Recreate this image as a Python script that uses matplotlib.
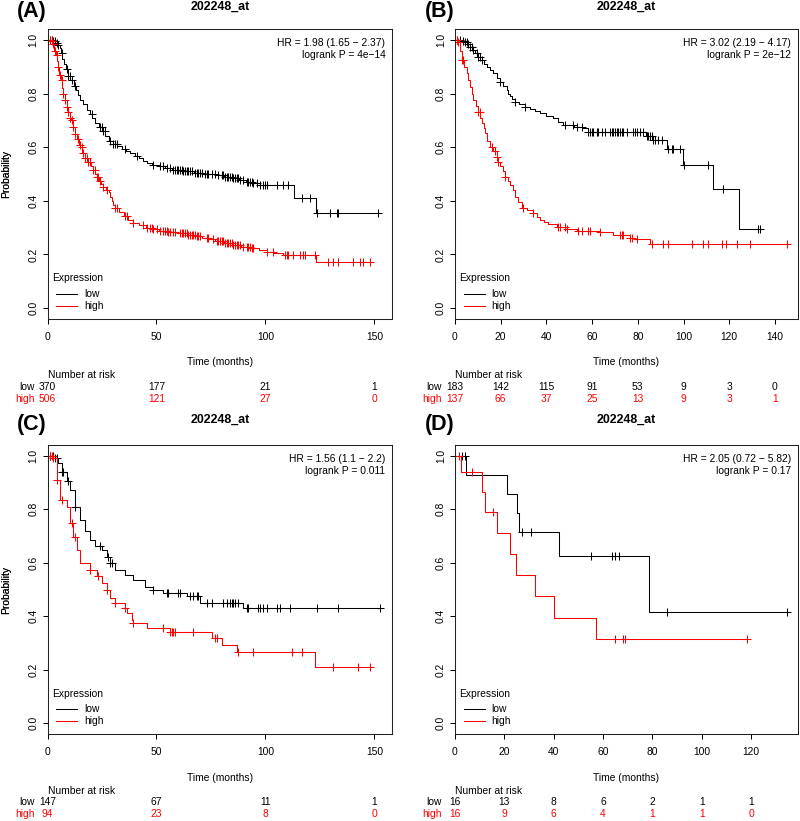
import numpy as np
import matplotlib
matplotlib.use('Agg')
import matplotlib.pyplot as plt
import matplotlib.transforms as mtransforms

plt.rcParams['font.family'] = ['Liberation Sans', 'DejaVu Sans']

W, H = 800, 821
FS = 7.4
RED = '#FF0000'

# ---------------- Panel A ----------------
a_low_t = [0, 2, 3.5, 5, 5.7, 6.2, 6.6, 7.5, 8.5, 9.5, 10.5, 12, 13, 14, 15, 16.5, 18, 19.5, 20.5, 22,
           23.5, 25, 26.5, 28, 30, 32, 34, 36, 38, 40, 42, 44, 45.5, 48, 51, 54, 57, 62, 67, 72, 77, 81,
           85, 88, 91, 94.5, 97.5, 113, 123, 152.6]
a_low_s = [1.0, 0.997, 0.99, 0.98, 0.97, 0.95, 0.93, 0.91, 0.89, 0.865, 0.85, 0.83, 0.813, 0.795, 0.776,
           0.76, 0.74, 0.725, 0.71, 0.69, 0.675, 0.66, 0.64, 0.625, 0.612, 0.605, 0.595, 0.585, 0.577,
           0.568, 0.56, 0.55, 0.54, 0.535, 0.528, 0.522, 0.515, 0.51, 0.505, 0.5, 0.496, 0.49, 0.484,
           0.478, 0.472, 0.466, 0.459, 0.412, 0.356, 0.356]
a_low_cens = [1.1, 1.9, 2.7, 3.4, 4.2, 5.0, 6.5, 8.8, 9.6, 10.3, 11.1, 12.6, 20.3, 24.1, 24.9, 25.6, 26.4,
              28.7, 30.2, 31.0, 31.7, 35.6, 40.9, 48.6, 51.6, 53.1, 54.7, 56.2, 57.7, 58.5, 59.3, 60.0,
              60.8, 61.6, 62.3, 63.1, 63.9, 64.6, 65.4, 66.2, 67.7, 68.5, 69.2, 70.0, 70.7, 72.3, 73.0,
              73.8, 75.3, 76.9, 78.4, 79.9, 80.7, 81.5, 82.2, 83.0, 83.7, 84.5, 85.3, 86.0, 86.8, 87.6,
              88.3, 89.9, 91.4, 92.2, 92.9, 93.7, 94.5, 96.0, 97.5, 99.1, 99.8, 100.6, 105.2, 108.2,
              110.5, 116.6, 120.5, 123.5, 129.6, 132.7, 133.4, 151.8]
a_high_t = [0, 1.5, 2.5, 3.2, 3.8, 4.5, 5.0, 5.5, 6.0, 6.7, 7.3, 8.0, 8.8, 9.6, 10.3, 11, 11.8, 12.6, 13.5,
            14.3, 15, 16, 17.2, 18.5, 20, 21, 22, 22.6, 23.5, 24.5, 25.6, 27, 28, 28.8, 29.5, 30.2, 31,
            33, 35, 37, 39.4, 42, 45, 48, 51, 55, 60, 64, 68, 71, 74, 77, 81, 85, 89, 93, 97, 100.6,
            104, 108, 123, 148.8]
a_high_s = [1.0, 0.995, 0.985, 0.96, 0.945, 0.92, 0.9, 0.87, 0.85, 0.82, 0.8, 0.775, 0.75, 0.73, 0.71,
            0.7, 0.675, 0.65, 0.63, 0.61, 0.6, 0.58, 0.558, 0.545, 0.53, 0.515, 0.5, 0.49, 0.475, 0.462,
            0.453, 0.44, 0.434, 0.415, 0.4, 0.385, 0.372, 0.36, 0.345, 0.33, 0.318, 0.308, 0.298, 0.293,
            0.289, 0.285, 0.279, 0.274, 0.268, 0.262, 0.256, 0.249, 0.242, 0.235, 0.229, 0.223, 0.218,
            0.21, 0.204, 0.198, 0.173, 0.173]
a_high_cens = [0.4, 1.1, 1.9, 2.7, 3.4, 4.2, 5.0, 5.7, 6.5, 7.3, 8.0, 8.8, 9.6, 10.3, 11.1, 11.9, 12.6,
               14.1, 14.9, 15.7, 16.4, 17.2, 18.0, 18.7, 19.5, 21.0, 21.8, 22.6, 23.3, 24.1, 25.6, 27.1,
               31.0, 31.7, 35.6, 36.3, 39.4, 43.9, 45.5, 47.0, 47.8, 48.6, 50.1, 51.6, 53.1, 53.9, 54.7,
               55.4, 56.2, 57.7, 58.5, 60.8, 61.6, 62.3, 63.1, 63.9, 64.6, 65.4, 66.2, 66.9, 67.7, 68.5,
               69.2, 70.0, 73.0, 73.8, 76.1, 77.6, 78.4, 79.2, 79.9, 80.7, 81.5, 82.2, 83.0, 83.7, 84.5,
               85.3, 86.0, 86.8, 87.6, 88.3, 89.9, 91.4, 92.2, 92.9, 93.7, 94.5, 100.6, 103.6, 109.0,
               109.8, 110.5, 112.8, 115.9, 117.4, 118.2, 122.8, 128.9, 131.2, 133.4, 140.3, 143.4,
               144.9, 148.0]
a_ticks = [0, 50, 100, 150]
a_risk_low = [370, 177, 21, 1]
a_risk_high = [506, 121, 27, 0]
a_hr = ['HR = 1.98 (1.65 \u2212 2.37)', 'logrank P = 4e\u221214']

# ---------------- Panel B ----------------
b_low_t = [0, 3, 4.4, 5.5, 6.6, 7.5, 8.7, 10.2, 11.7, 12.8, 13.9, 15.3, 16.8, 18.2, 19.7, 21, 22.6, 23.3,
           24, 25, 26.2, 28, 30.6, 33, 35, 37.2, 40, 43, 45, 47.4, 52, 56, 58.3, 83.8, 86.8, 92.6, 99.9,
           113, 124.2, 133.9]
b_low_s = [1.0, 0.997, 0.994, 0.985, 0.975, 0.962, 0.95, 0.935, 0.925, 0.912, 0.9, 0.888, 0.876, 0.86,
           0.845, 0.83, 0.814, 0.8, 0.79, 0.78, 0.77, 0.76, 0.75, 0.742, 0.735, 0.727, 0.718, 0.708,
           0.695, 0.683, 0.677, 0.671, 0.655, 0.642, 0.627, 0.593, 0.534, 0.443, 0.296, 0.296]
b_low_cens = [0.7, 2.2, 3.6, 4.4, 5.1, 5.8, 6.6, 7.3, 8.0, 9.5, 10.2, 10.9, 11.7, 19.7, 26.2, 30.6,
              48.1, 51.8, 53.2, 55.4, 58.3, 59.1, 59.8, 60.5, 62.0, 62.7, 64.2, 65.6, 67.8, 68.5, 69.3,
              70.0, 70.7, 71.4, 72.2, 72.9, 73.7, 75.1, 78.0, 78.8, 79.5, 81.0, 82.4, 83.9, 84.6, 85.3,
              86.0, 86.8, 87.5, 89.0, 90.4, 93.3, 94.8, 95.5, 98.4, 100.3, 110.8, 117.4, 132.7, 133.4]
b_high_t = [0, 1.5, 2.2, 2.9, 4, 5.1, 5.9, 6.6, 7.3, 8, 9, 10.2, 11, 11.8, 12.5, 13.1, 14.2, 15.3, 16.5,
            18.2, 19, 19.7, 20.8, 21.9, 23, 24.1, 25.2, 26.2, 27.5, 29.2, 31.5, 34.3, 36, 37.2, 39, 40.8,
            44.5, 48.8, 53.2, 63.4, 69.3, 76.6, 78.7, 85.3, 145]
b_high_s = [1.0, 0.994, 0.96, 0.925, 0.9, 0.876, 0.85, 0.826, 0.8, 0.776, 0.755, 0.733, 0.71, 0.69, 0.67,
            0.652, 0.625, 0.602, 0.585, 0.565, 0.545, 0.528, 0.51, 0.49, 0.475, 0.46, 0.44, 0.416,
            0.395, 0.373, 0.365, 0.354, 0.34, 0.329, 0.32, 0.314, 0.304, 0.294, 0.289, 0.283, 0.273,
            0.263, 0.257, 0.237, 0.237]
b_high_cens = [0.7, 1.5, 2.9, 3.6, 10.2, 10.9, 16.0, 17.5, 18.2, 19.0, 21.9, 29.9, 34.3, 45.2, 45.9, 48.1,
               48.8, 54.0, 55.4, 58.3, 59.1, 63.4, 72.2, 72.9, 73.7, 76.6, 77.3, 79.5, 86.0, 91.1, 93.3,
               103.5, 108.6, 110.8, 116.7, 118.8, 123.2, 129.0, 145.1]
b_ticks = [0, 20, 40, 60, 80, 100, 120, 140]
b_risk_low = [183, 142, 115, 91, 53, 9, 3, 0]
b_risk_high = [137, 66, 37, 25, 13, 9, 3, 1]
b_hr = ['HR = 3.02 (2.19 \u2212 4.17)', 'logrank P = 2e\u221212']

# ---------------- Panel C ----------------
c_low_t = [0, 3.4, 5, 6.5, 8.8, 10.3, 12.6, 15, 17.2, 19.5, 21.8, 24.9, 27.2, 28.7, 31, 35.6, 39.4, 44.7,
           48.6, 53.2, 63.9, 70, 89.8, 153]
c_low_s = [1.0, 0.99, 0.973, 0.94, 0.904, 0.873, 0.81, 0.76, 0.717, 0.686, 0.661, 0.648, 0.623, 0.599,
           0.574, 0.555, 0.536, 0.511, 0.499, 0.486, 0.474, 0.451, 0.43, 0.43]
c_low_cens = [1.1, 2.7, 3.4, 4.2, 6.5, 7.3, 9.6, 12.6, 24.1, 27.9, 28.7, 29.4, 48.6, 54.7, 55.4, 60.0,
              60.8, 65.4, 66.9, 68.5, 69.2, 73.0, 75.3, 80.7, 82.2, 83.7, 84.5, 85.3, 86.0, 87.6, 91.4,
              92.2, 96.7, 97.5, 99.1, 100.6, 105.2, 106.7, 111.3, 123.5, 133.4, 152.6]
c_high_t = [0, 2.7, 4.2, 5.7, 8.8, 10.3, 11.9, 13.4, 15, 19.5, 22.6, 24.9, 27.2, 28.7, 31, 35.6, 36.4,
            38.6, 39.4, 45.5, 56.2, 75.3, 79.9, 86.8, 122.8, 148.8]
c_high_s = [1.0, 0.99, 0.91, 0.835, 0.81, 0.748, 0.698, 0.648, 0.599, 0.574, 0.549, 0.524, 0.499, 0.468,
            0.449, 0.43, 0.411, 0.387, 0.374, 0.355, 0.343, 0.318, 0.293, 0.266, 0.212, 0.212]
c_high_cens = [1.1, 1.9, 2.7, 4.2, 6.5, 11.1, 12.6, 19.5, 23.3, 27.2, 31.0, 35.6, 39.4, 53.2, 56.2, 57.0,
               57.7, 58.5, 66.9, 76.9, 77.6, 87.6, 94.5, 112.0, 116.6, 131.2, 142.6, 148.0]
c_ticks = [0, 50, 100, 150]
c_risk_low = [147, 67, 11, 1]
c_risk_high = [94, 23, 8, 0]
c_hr = ['HR = 1.56 (1.1 \u2212 2.2)', 'logrank P = 0.011']

# ---------------- Panel D ----------------
d_low_t = [0, 4.3, 20.9, 25.2, 25.8, 42, 78.5, 134.4]
d_low_s = [1.0, 0.929, 0.857, 0.786, 0.714, 0.624, 0.415, 0.415]
d_low_cens = [3.0, 4.0, 27.2, 30.6, 55.3, 63.6, 65.0, 66.3, 85.9, 134.4]
d_high_t = [0, 2.3, 11.1, 12.0, 16.9, 22.2, 24.8, 32.6, 40.0, 57.3, 118.2]
d_high_s = [1.0, 0.9375, 0.863, 0.788, 0.711, 0.632, 0.554, 0.474, 0.395, 0.315, 0.315]
d_high_cens = [1.6, 7.0, 15.5, 65.0, 68.1, 69.0, 118.2]
d_ticks = [0, 20, 40, 60, 80, 100, 120]
d_risk_low = [16, 13, 8, 6, 2, 1, 1]
d_risk_high = [16, 9, 6, 4, 1, 1, 0]
d_hr = ['HR = 2.05 (0.72 \u2212 5.82)', 'logrank P = 0.17']

TITLE = '202248_at'

fig = plt.figure(figsize=(W / 100, H / 100), dpi=100)


def surv_at(times, surv, t):
    idx = np.searchsorted(np.asarray(times), np.asarray(t), side='right') - 1
    return np.asarray(surv)[idx]


def panel(letter, letter_xy, box, xlim, ticks, low, high, hr, risk_low, risk_high, title_y):
    l, t, r, b = box
    ax = fig.add_axes([l / W, 1 - b / H, (r - l) / W, (b - t) / H])
    aw, ah = r - l, b - t
    for (tt, ss, cc), col in ((low, 'black'), (high, RED)):
        ax.step(tt, ss, where='post', color=col, lw=0.75)
        ax.plot(cc, surv_at(tt, ss, cc), linestyle='none', marker='+', ms=5.5, mew=0.75, color=col)
    ax.set_xlim(*xlim)
    ax.set_ylim(-0.04, 1.04)
    ax.set_xticks(ticks)
    ax.set_xticklabels([str(v) for v in ticks])
    ax.set_yticks([0, 0.2, 0.4, 0.6, 0.8, 1.0])
    ax.set_yticklabels(['0.0', '0.2', '0.4', '0.6', '0.8', '1.0'], rotation=90, va='center')
    ax.tick_params(axis='both', direction='out', length=3.6, width=0.75, labelsize=FS, color='black')
    ax.tick_params(axis='x', pad=6)
    ax.tick_params(axis='y', pad=3)
    for s in ax.spines.values():
        s.set_linewidth(0.75)
        s.set_color('#222222')
    # axis label
    fig.text(6 / W, 1 - (t + b) / 2 / H, 'Probability', rotation=90, ha='center', va='center', fontsize=FS)
    # title and letter
    fig.text((l + r) / 2 / W, 1 - title_y / H, TITLE, ha='center', va='center', fontsize=8.9, fontweight='bold')
    fig.text(letter_xy[0] / W, 1 - letter_xy[1] / H, letter, ha='center', va='center', fontsize=15.5,
             fontweight='bold')
    # HR text
    fig.text((r - 7) / W, 1 - (t + 13.7) / H, hr[0], ha='right', va='center', fontsize=FS)
    fig.text((r - 7) / W, 1 - (t + 25.7) / H, hr[1], ha='right', va='center', fontsize=FS)
    # legend
    fig.text((l + 4.5) / W, 1 - (b - 40.5) / H, 'Expression', ha='left', va='center', fontsize=FS)
    for dy, lab, col in ((24.7, 'low', 'black'), (12.7, 'high', RED)):
        ax.plot([8.5 / aw, 29.5 / aw], [dy / ah, dy / ah], transform=ax.transAxes, color=col, lw=0.75)
        fig.text((l + 36.5) / W, 1 - (b - dy) / H, lab, ha='left', va='center', fontsize=FS)
    # x label and number at risk
    fig.text((l + r) / 2 / W, 1 - (b + 43.5) / H, 'Time (months)', ha='center', va='center', fontsize=FS)
    tr = mtransforms.blended_transform_factory(ax.transData, fig.transFigure)
    ax.text(0, 1 - (b + 56.5) / H, 'Number at risk', transform=tr, ha='left', va='center', fontsize=FS,
            clip_on=False)
    x0 = ax.transData.transform((0, 0))[0]
    fig.text((x0 - 13) / W, 1 - (b + 68) / H, 'low', ha='right', va='center', fontsize=FS)
    fig.text((x0 - 13) / W, 1 - (b + 80) / H, 'high', ha='right', va='center', fontsize=FS, color=RED)
    for xv, nl, nh in zip(ticks, risk_low, risk_high):
        ax.text(xv, 1 - (b + 68) / H, str(nl), transform=tr, ha='center', va='center', fontsize=FS,
                clip_on=False)
        ax.text(xv, 1 - (b + 80) / H, str(nh), transform=tr, ha='center', va='center', fontsize=FS,
                color=RED, clip_on=False)
    return ax


panel('(A)', (32, 12), (47.5, 29.3, 392.3, 318.7), (0, 158.2), a_ticks,
      (a_low_t, a_low_s, a_low_cens), (a_high_t, a_high_s, a_high_cens), a_hr, a_risk_low, a_risk_high, 7)
panel('(B)', (440, 12), (455, 29.3, 798, 318.7), (0, 150.1), b_ticks,
      (b_low_t, b_low_s, b_low_cens), (b_high_t, b_high_s, b_high_cens), b_hr, b_risk_low, b_risk_high, 7)
panel('(C)', (32, 424), (47.5, 445, 392.3, 734), (0, 158.2), c_ticks,
      (c_low_t, c_low_s, c_low_cens), (c_high_t, c_high_s, c_high_cens), c_hr, c_risk_low, c_risk_high, 420)
panel('(D)', (440, 424), (455, 445, 798, 734), (0, 139), d_ticks,
      (d_low_t, d_low_s, d_low_cens), (d_high_t, d_high_s, d_high_cens), d_hr, d_risk_low, d_risk_high, 420)

fig.savefig('out.png', dpi=100)
